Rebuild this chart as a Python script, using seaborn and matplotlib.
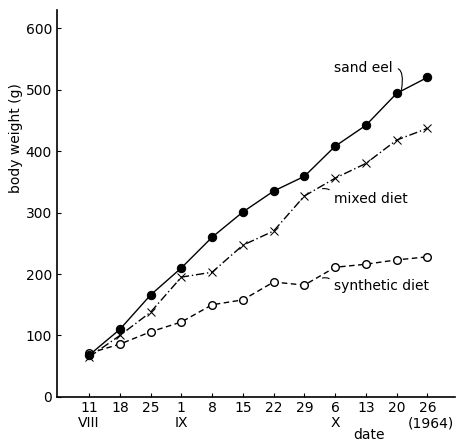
import matplotlib
matplotlib.use("Agg")
import matplotlib.pyplot as plt
import seaborn as sns
import pandas as pd

sns.set_style("ticks")
plt.rcParams["font.family"] = ["DejaVu Sans"]
plt.rcParams["text.color"] = "black"
plt.rcParams["xtick.color"] = "black"
plt.rcParams["ytick.color"] = "black"

# sampling dates (weekly), with month labels underneath
days = ["11", "18", "25", "1", "8", "15", "22", "29", "6", "13", "20", "26"]
months = {0: "VIII", 3: "IX", 8: "X", 11: "(1964)"}

sand_eel = [68, 110, 166, 210, 260, 301, 335, 359, 408, 442, 494, 520]
mixed_diet = [65, 100, 138, 195, 203, 247, 270, 327, 356, 380, 418, 437]
synthetic_diet = [71, 86, 106, 122, 150, 158, 187, 182, 211, 216, 223, 228]

idx = list(range(len(days)))
df = pd.DataFrame({"t": idx * 3,
                   "w": sand_eel + mixed_diet + synthetic_diet,
                   "diet": ["sand eel"] * 12 + ["mixed diet"] * 12 + ["synthetic diet"] * 12})

fig = plt.figure(figsize=(4.62, 4.46), dpi=100)
ax = fig.add_axes([0.123, 0.110, 0.862, 0.868])

styles = {
    "sand eel": dict(marker="o", markersize=6, markerfacecolor="black",
                     markeredgecolor="black", linestyle="-"),
    "mixed diet": dict(marker="x", markersize=5.5, markeredgecolor="black",
                       linestyle=(0, (6, 2, 1, 2))),
    "synthetic diet": dict(marker="o", markersize=5.5, markerfacecolor="white",
                           markeredgecolor="black", markeredgewidth=1.0,
                           linestyle=(0, (4, 2.5))),
}
for name in ["synthetic diet", "mixed diet", "sand eel"]:
    sub = df[df["diet"] == name]
    sns.lineplot(data=sub, x="t", y="w", ax=ax, color="black", linewidth=1.0,
                 legend=False, **styles[name])

ax.set_xlim(-1.05, 11.9)
ax.set_ylim(0, 630)
ax.set_yticks(range(0, 601, 100))
ax.set_xticks(idx)
ax.set_xticklabels(days)
ax.tick_params(direction="in", length=3, width=0.8, labelsize=10)
ax.tick_params(axis="x", pad=3)
for s in ["top", "right"]:
    ax.spines[s].set_visible(False)
for s in ["left", "bottom"]:
    ax.spines[s].set_linewidth(1.2)
    ax.spines[s].set_color("black")
ax.set_xlabel("")
ax.set_ylabel("")

# month labels and axis titles
for i, m in months.items():
    ax.text(i + (0.1 if i == 11 else 0), -0.068, m, transform=ax.get_xaxis_transform(),
            ha="center", va="center", fontsize=10)
ax.text(9.1, -0.098, "date", transform=ax.get_xaxis_transform(),
        ha="center", va="center", fontsize=10)
fig.text(0.035, 0.69, "body weight (g)", rotation=90, ha="center", va="center",
         fontsize=10)

# series labels with small connectors
arc = dict(arrowstyle="-", color="black", lw=0.8)
ax.annotate("sand eel", xy=(10.15, 498), xytext=(7.95, 535),
            ha="left", va="center", fontsize=10,
            arrowprops=dict(arc, connectionstyle="angle3,angleA=0,angleB=80",
                            shrinkA=2, shrinkB=1, relpos=(1.05, 0.5)))
ax.annotate("mixed diet", xy=(7.5, 338), xytext=(7.95, 322),
            ha="left", va="center", fontsize=10,
            arrowprops=dict(arc, connectionstyle="arc3,rad=0.6",
                            shrinkA=1, shrinkB=2, relpos=(0, 0.5)))
ax.annotate("synthetic diet", xy=(7.5, 192), xytext=(7.95, 180),
            ha="left", va="center", fontsize=10,
            arrowprops=dict(arc, connectionstyle="arc3,rad=0.6",
                            shrinkA=1, shrinkB=2, relpos=(0, 0.5)))

fig.savefig("out.png", dpi=100)
